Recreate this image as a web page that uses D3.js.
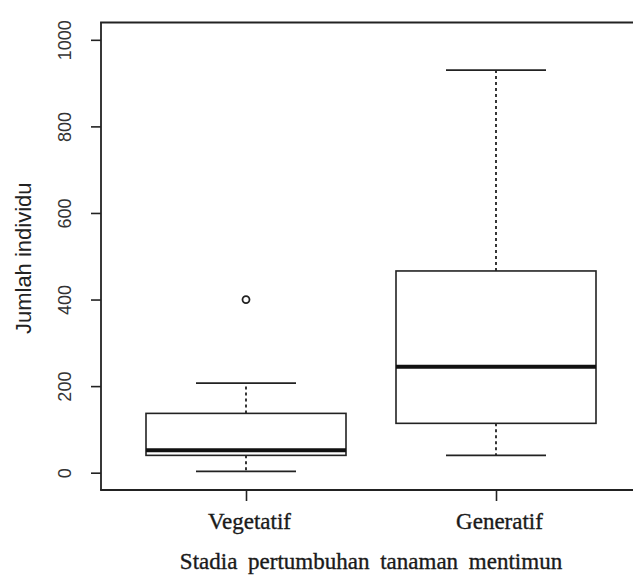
<!DOCTYPE html>
<html>
<head>
<meta charset="utf-8">
<script src="https://cdn.jsdelivr.net/npm/d3@7/dist/d3.min.js"></script>
<style>
  html, body { margin: 0; padding: 0; background: #fff; overflow: hidden; }
  svg { display: block; }
</style>
</head>
<body>
<svg id="chart" width="633" height="578"></svg>
<script>
// ---- data ----
const categories = ["Vegetatif", "Generatif"];
const whiskerLow = [3, 40];
const q1 = [40, 114];
const median = [52, 245];
const q3 = [137, 466];
const whiskerHigh = [207, 930];
const outlierCategory = ["Vegetatif"];
const outlierValue = [400];
const yTicks = [0, 200, 400, 600, 800, 1000];
const yLabel = "Jumlah individu";
const xLabel = "Stadia pertumbuhan tanaman mentimun";

// ---- layout ----
const svg = d3.select("#chart");
const W = 633, H = 578;
const plotLeft = 101, plotRight = 641, plotTop = 22.5, plotBottom = 490;
const ink = "#222";

const x = d3.scaleLinear().domain([0.42, 2.58]).range([plotLeft, plotRight]);
const y = d3.scaleLinear().domain([-40, 1040]).range([plotBottom, plotTop]);
const pos = c => categories.indexOf(c) + 1;

const boxHalf = 0.4, capHalf = 0.2;

const data = categories.map((c, i) => ({
  c, lo: whiskerLow[i], q1: q1[i], med: median[i], q3: q3[i], hi: whiskerHigh[i]
}));

const g = svg.append("g");

// whiskers (dashed)
g.selectAll(".wl").data(data).join("line")
  .attr("x1", d => x(pos(d.c))).attr("x2", d => x(pos(d.c)))
  .attr("y1", d => y(d.q3)).attr("y2", d => y(d.hi))
  .attr("stroke", ink).attr("stroke-width", 1.8).attr("stroke-dasharray", "3,3");
g.selectAll(".wl2").data(data).join("line")
  .attr("x1", d => x(pos(d.c))).attr("x2", d => x(pos(d.c)))
  .attr("y1", d => y(d.q1)).attr("y2", d => y(d.lo))
  .attr("stroke", ink).attr("stroke-width", 1.8).attr("stroke-dasharray", "3,3");

// caps
["lo", "hi"].forEach(k => {
  g.selectAll(".cap" + k).data(data).join("line")
    .attr("x1", d => x(pos(d.c) - capHalf)).attr("x2", d => x(pos(d.c) + capHalf))
    .attr("y1", d => y(d[k])).attr("y2", d => y(d[k]))
    .attr("stroke", ink).attr("stroke-width", 1.6);
});

// boxes
g.selectAll(".box").data(data).join("rect")
  .attr("x", d => x(pos(d.c) - boxHalf))
  .attr("width", d => x(pos(d.c) + boxHalf) - x(pos(d.c) - boxHalf))
  .attr("y", d => y(d.q3))
  .attr("height", d => y(d.q1) - y(d.q3))
  .attr("fill", "none").attr("stroke", ink).attr("stroke-width", 1.6);

// medians
g.selectAll(".med").data(data).join("line")
  .attr("x1", d => x(pos(d.c) - boxHalf)).attr("x2", d => x(pos(d.c) + boxHalf))
  .attr("y1", d => y(d.med)).attr("y2", d => y(d.med))
  .attr("stroke", "#111").attr("stroke-width", 4);

// outliers
g.selectAll(".out").data(outlierValue).join("circle")
  .attr("cx", (d, i) => x(pos(outlierCategory[i])))
  .attr("cy", d => y(d))
  .attr("r", 3.5)
  .attr("fill", "none").attr("stroke", ink).attr("stroke-width", 1.8);

// frame (right side falls outside the picture)
const frame = svg.append("g").attr("stroke", ink).attr("stroke-width", 1.8);
frame.append("line").attr("x1", plotLeft).attr("x2", plotLeft).attr("y1", plotTop).attr("y2", plotBottom);
frame.append("line").attr("x1", plotLeft - 0.9).attr("x2", W).attr("y1", plotTop).attr("y2", plotTop);
frame.append("line").attr("x1", plotLeft - 0.9).attr("x2", W).attr("y1", plotBottom).attr("y2", plotBottom);

// y axis
const yAxis = svg.append("g")
  .attr("transform", `translate(${plotLeft},0)`)
  .call(d3.axisLeft(y).tickValues(yTicks).tickSize(10).tickFormat(d3.format("d")));
yAxis.select(".domain").remove();
yAxis.selectAll(".tick line").attr("stroke", ink).attr("stroke-width", 1.6);
yAxis.selectAll(".tick text")
  .attr("x", null).attr("dy", null)
  .attr("text-anchor", "middle")
  .attr("transform", "translate(-36,0) rotate(-90)")
  .attr("dy", "0.36em")
  .attr("fill", "#333")
  .style("font-family", "'Liberation Sans', Arial, sans-serif")
  .style("font-size", "18px");

// x axis
const xAxis = svg.append("g")
  .attr("transform", `translate(0,${plotBottom})`)
  .call(d3.axisBottom(x).tickValues(categories.map(pos)).tickSize(11).tickFormat((d, i) => categories[i]));
xAxis.select(".domain").remove();
xAxis.selectAll(".tick line").attr("stroke", ink).attr("stroke-width", 1.6);
xAxis.selectAll(".tick text")
  .attr("y", 39).attr("dy", null)
  .attr("dx", "3")
  .attr("fill", "#1a1a1a")
  .attr("stroke", "#1a1a1a").attr("stroke-width", 0.35)
  .style("font-family", "'Liberation Serif', 'Times New Roman', serif")
  .style("font-size", "23px");

// axis titles
svg.append("text")
  .attr("transform", `translate(23,${(plotTop + plotBottom) / 2 + 2}) rotate(-90)`)
  .attr("text-anchor", "middle").attr("dy", "0.36em")
  .attr("fill", "#222")
  .style("font-family", "'Liberation Sans', Arial, sans-serif")
  .style("font-size", "22px")
  .text(yLabel);

svg.append("text")
  .attr("x", (plotLeft + plotRight) / 2).attr("y", 569)
  .attr("text-anchor", "middle")
  .attr("fill", "#1a1a1a")
  .attr("stroke", "#1a1a1a").attr("stroke-width", 0.35)
  .style("font-family", "'Liberation Serif', 'Times New Roman', serif")
  .style("font-size", "23px")
  .style("word-spacing", "5px")
  .text(xLabel);
</script>
</body>
</html>
